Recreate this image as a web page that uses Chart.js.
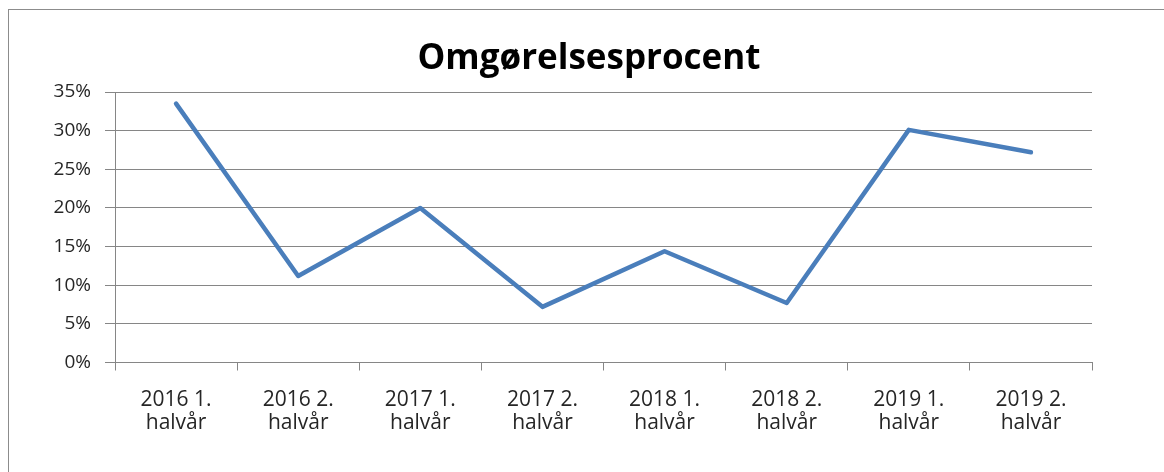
<!DOCTYPE html>
<html>
<head>
<meta charset="utf-8">
<script src="https://cdn.jsdelivr.net/npm/chart.js@4.4.1/dist/chart.umd.min.js"></script>
<style>
  html, body { margin: 0; padding: 0; background: #ffffff; }
  #wrap { position: relative; width: 1164px; height: 472px; overflow: hidden; background: #ffffff; }
  #frame { position: absolute; left: 8px; top: 9px; width: 1200px; height: 500px;
           border-left: 1px solid #8c8c8c; border-top: 1px solid #8c8c8c; box-sizing: border-box; }
  #c { position: absolute; left: 0; top: 0; }
</style>
</head>
<body>
<div id="wrap">
  <div id="frame"></div>
  <canvas id="c" width="1164" height="472"></canvas>
</div>
<script>
const title = 'Omgørelsesprocent';
const categories = [
  ['2016 1.', 'halvår'], ['2016 2.', 'halvår'],
  ['2017 1.', 'halvår'], ['2017 2.', 'halvår'],
  ['2018 1.', 'halvår'], ['2018 2.', 'halvår'],
  ['2019 1.', 'halvår'], ['2019 2.', 'halvår']
];
const omgoerelse = [33.5, 11.2, 20.0, 7.2, 14.4, 7.7, 30.1, 27.2];
const yMin = 0, yMax = 35, yStep = 5;

const gridColor = '#868686';

new Chart(document.getElementById('c'), {
  type: 'line',
  data: {
    labels: categories,
    datasets: [{
      label: title,
      data: omgoerelse,
      borderColor: '#4a7ebb',
      backgroundColor: '#4a7ebb',
      borderWidth: 4.5,
      pointRadius: 0,
      pointHoverRadius: 0,
      tension: 0,
      borderJoinStyle: 'round',
      borderCapStyle: 'round',
      fill: false,
      yAxisID: 'y'
    }]
  },
  options: {
    responsive: false,
    animation: false,
    devicePixelRatio: 1,
    layout: { padding: { left: 14, right: 0, top: 0, bottom: 0 } },
    plugins: {
      legend: { display: false },
      tooltip: { enabled: false },
      title: {
        display: true,
        text: title,
        color: '#000000',
        font: { family: 'Open Sans', size: 35, weight: 'bold', lineHeight: 1.2 },
        padding: { top: 38, bottom: 12 }
      }
    },
    scales: {
      x: {
        type: 'category',
        offset: true,
        grid: {
          display: true,
          drawOnChartArea: false,
          drawTicks: true,
          tickLength: 8,
          offset: true,
          color: gridColor,
          lineWidth: 1
        },
        border: { display: true, color: gridColor, width: 1 },
        ticks: {
          color: '#262626',
          font: { family: 'Open Sans', size: 21, lineHeight: 1.11 },
          padding: 18,
          maxRotation: 0,
          minRotation: 0,
          autoSkip: false
        },
        afterFit: (s) => { s.height = 109.5; }
      },
      y: {
        position: 'left',
        min: yMin,
        max: yMax,
        grid: {
          color: gridColor,
          lineWidth: 1,
          drawTicks: true,
          tickLength: 10
        },
        border: { display: true, color: gridColor, width: 1 },
        ticks: {
          stepSize: yStep,
          color: '#262626',
          font: { family: 'Open Sans', size: 19 },
          padding: 14,
          callback: (v) => v + '%'
        },
        afterFit: (s) => { s.width = 101; }
      },
      spacer: {
        type: 'linear',
        position: 'right',
        display: true,
        min: yMin,
        max: yMax,
        grid: { display: false, drawTicks: false },
        border: { display: false },
        ticks: { display: false },
        afterFit: (s) => { s.width = 72; }
      }
    }
  }
});
</script>
</body>
</html>
